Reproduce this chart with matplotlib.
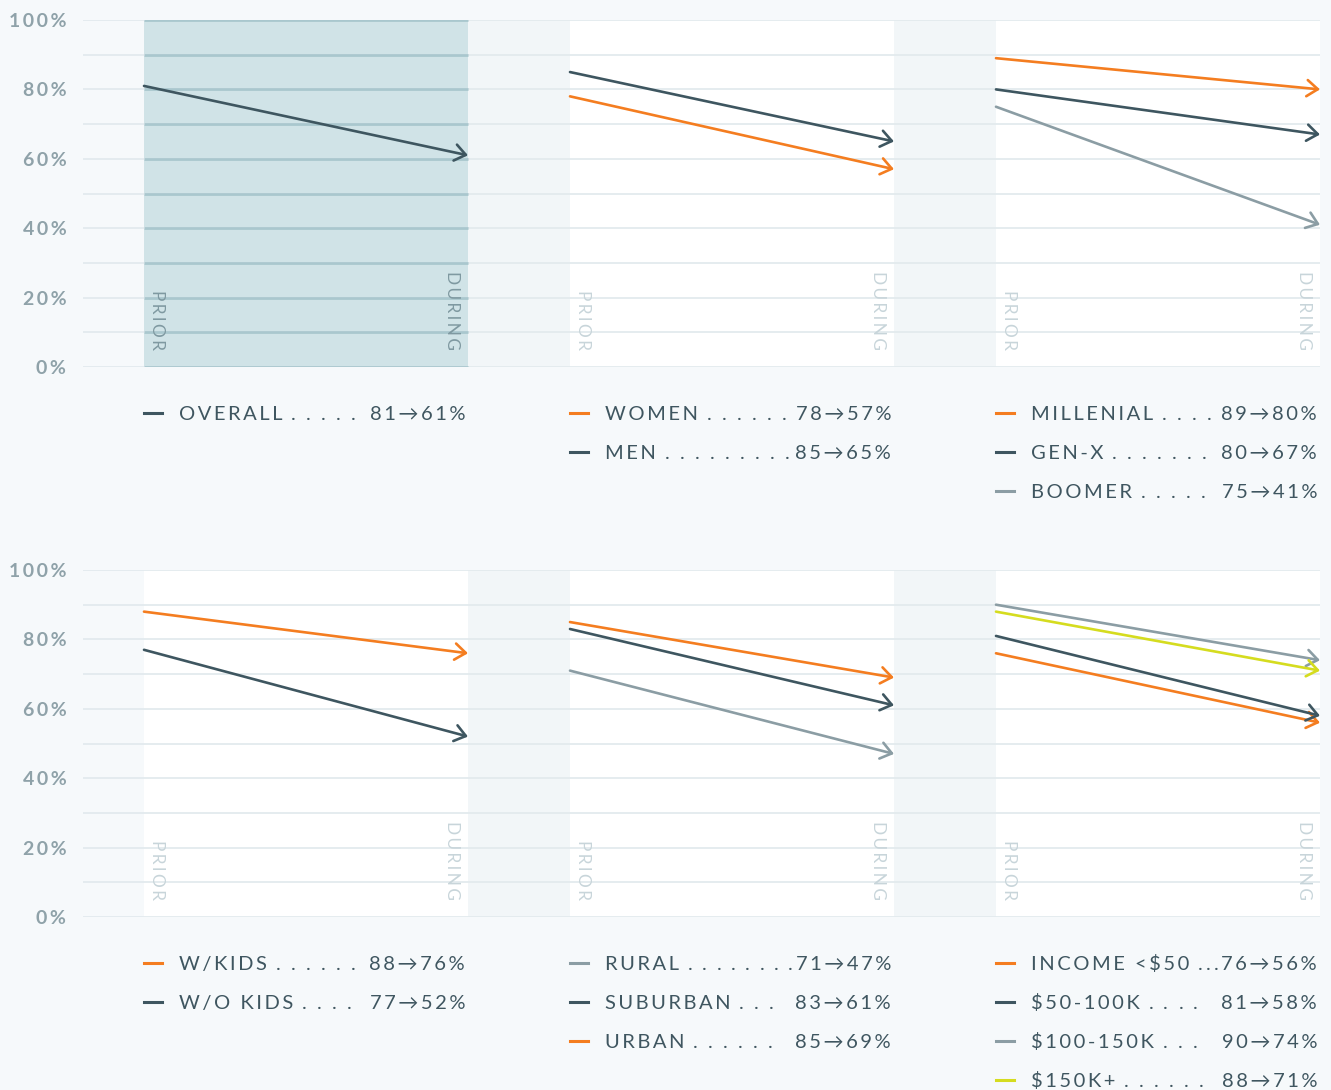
import matplotlib
matplotlib.use("Agg")
import matplotlib.pyplot as plt

plt.rcParams['font.family'] = ['Lato', 'DejaVu Sans']

# DATA
# each panel: names, prior %, during %, colour key, dots in the legend
panel_names = [
    ["OVERALL"],
    ["WOMEN", "MEN"],
    ["MILLENIAL", "GEN-X", "BOOMER"],
    ["W/KIDS", "W/O KIDS"],
    ["RURAL", "SUBURBAN", "URBAN"],
    ["INCOME <$50", "$50-100K", "$100-150K", "$150K+"],
]
panel_prior = [
    [81],
    [78, 85],
    [89, 80, 75],
    [88, 77],
    [71, 83, 85],
    [76, 81, 90, 88],
]
panel_during = [
    [61],
    [57, 65],
    [80, 67, 41],
    [76, 52],
    [47, 61, 69],
    [56, 58, 74, 71],
]
panel_colors = [
    ["dark"],
    ["orange", "dark"],
    ["orange", "dark", "gray"],
    ["orange", "dark"],
    ["gray", "dark", "orange"],
    ["orange", "dark", "gray", "yellow"],
]
panel_dots = [
    [5],
    [6, 9],
    [4, 7, 5],
    [6, 4],
    [8, 3, 6],
    [3, 4, 3, 6],
]
y_ticks = [0, 20, 40, 60, 80, 100]
x_labels = ["PRIOR", "DURING"]
selected = 0

COLORS = {"orange": "#f47d20", "dark": "#3e5660", "gray": "#8b9da4", "yellow": "#d5dc1f"}
BG = "#f6f9fb"
GAP = "#f2f6f8"
GRID = "#e3eaee"
SEL_FILL = "#d0e3e7"
SEL_GRID = "#a9c7ce"
TXT = "#3f5660"
TICK = "#8fa2a9"

W, H = 1331, 1090
HS = "\u200a\u200a"


def spaced(s):
    return HS.join(s)


fig = plt.figure(figsize=(W / 100, H / 100), dpi=100, facecolor=BG)

# layout in pixels
ax_left, ax_right = 83, 1320
row_tops = [20, 570]
row_h = 347
pw, gap, lm = 324, 102, 61  # panel width, gap, left margin (px)
unit = pw
step = (pw + gap) / unit
xmin = -lm / unit
xmax = 2 * step + 1

axes = []
for r, top in enumerate(row_tops):
    ax = fig.add_axes([ax_left / W, 1 - (top + row_h) / H, (ax_right - ax_left) / W, row_h / H])
    ax.set_facecolor(BG)
    ax.set_xlim(xmin, xmax)
    ax.set_ylim(0, 100)
    for s in ax.spines.values():
        s.set_visible(False)
    ax.set_xticks([])
    ax.set_yticks(y_ticks)
    ax.set_yticklabels([spaced(f"{t}%") for t in y_ticks])
    ax.tick_params(axis="y", length=0, pad=12, labelsize=14, labelcolor=TICK)
    for lab in ax.get_yticklabels():
        lab.set_fontweight("bold")
    # gaps between panels
    for i in range(2):
        ax.axvspan(i * step + 1, (i + 1) * step, color=GAP, zorder=0, lw=0)
    # grid
    for g in range(0, 101, 10):
        ax.axhline(g, color=GRID, lw=1.3, zorder=1)
    axes.append(ax)

for p in range(6):
    r, c = divmod(p, 3)
    ax = axes[r]
    x0 = c * step
    x1 = x0 + 1
    sel = p == selected
    ax.axvspan(x0, x1, color=SEL_FILL if sel else "white", zorder=0.5, lw=0)
    if sel:
        for g in range(0, 101, 10):
            ax.plot([x0, x1], [g, g], color=SEL_GRID, lw=2, zorder=1.5, solid_capstyle="butt")
    lab_col = "#7f99a1" if sel else "#c8d5da"
    ax.text(x0 + 0.04, 5, spaced(x_labels[0]), rotation=-90, ha="center", va="bottom",
            fontsize=12.5, color=lab_col, zorder=2)
    ax.text(x1 - 0.05, 5, spaced(x_labels[1]), rotation=-90, ha="center", va="bottom",
            fontsize=12.5, color=lab_col, zorder=2)
    for pr, du, ck in zip(panel_prior[p], panel_during[p], panel_colors[p]):
        ax.annotate("", xy=(x1, du), xytext=(x0, pr),
                    arrowprops=dict(arrowstyle="->,head_length=0.6,head_width=0.45",
                                    color=COLORS[ck], lw=1.9, shrinkA=0, shrinkB=0,
                                    mutation_scale=13),
                    zorder=3)

fig.canvas.draw()
rend = fig.canvas.get_renderer()

# legends
leg_tops = [420, 970]
leg_step = 39
for p in range(6):
    r, c = divmod(p, 3)
    px0 = 144 + c * (pw + gap)
    px1 = px0 + pw
    for k, (nm, pr, du, ck, nd) in enumerate(zip(panel_names[p], panel_prior[p], panel_during[p],
                                                 panel_colors[p], panel_dots[p])):
        yb = leg_tops[r] + k * leg_step
        fy = 1 - yb / H
        fig.add_artist(plt.Line2D([px0 / W, (px0 + 18) / W], [1 - (yb - 7) / H] * 2,
                                  color=COLORS[ck], lw=2.2, transform=fig.transFigure))
        t1 = fig.text((px0 + 35) / W, fy, spaced(nm), ha="left", va="baseline",
                      fontsize=14.5, color=TXT)
        t2 = fig.text((px1 - 3) / W, fy, spaced(f"{pr}\u2192{du}%"), ha="right", va="baseline",
                      fontsize=14.5, color=TXT)
        b1 = t1.get_window_extent(rend)
        b2 = t2.get_window_extent(rend)
        lo, hi = b1.x1 + 11, b2.x0 - 5
        sp = min(15, (hi - lo) / max(nd - 1, 1))
        for d in range(nd):
            xd = lo + sp * d
            fig.text(xd / W, fy, ".", ha="center", va="baseline", fontsize=14.5, color=TXT)

fig.savefig("out.png", dpi=100, facecolor=BG)
